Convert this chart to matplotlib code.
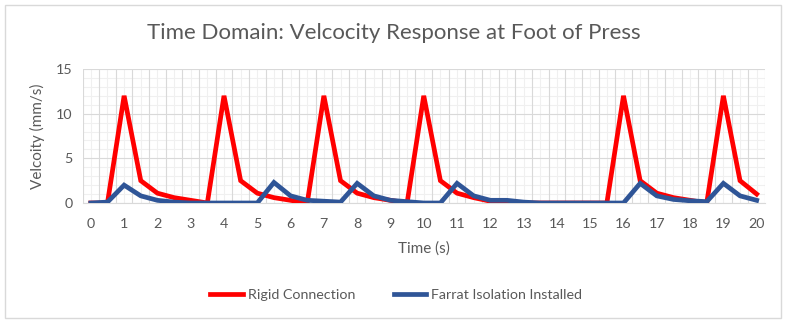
import matplotlib
matplotlib.use("Agg")
import matplotlib.pyplot as plt
from matplotlib.patches import Rectangle
from matplotlib.ticker import MultipleLocator, FixedLocator
import numpy as np

time = [0, 0.5, 1, 1.5, 2, 2.5, 3, 3.5, 4, 4.5, 5, 5.5, 6, 6.5, 7, 7.5, 8, 8.5, 9, 9.5,
        10, 10.5, 11, 11.5, 12, 12.5, 13, 13.5, 14, 14.5, 15, 15.5, 16, 16.5, 17, 17.5,
        18, 18.5, 19, 19.5, 20]
rigid = [0, 0, 12, 2.5, 1.1, 0.6, 0.3, 0, 12, 2.5, 1.1, 0.6, 0.3, 0, 12, 2.5, 1.1, 0.6, 0.3, 0,
         12, 2.5, 1.1, 0.6, 0.2, 0.1, 0, 0, 0, 0, 0, 0, 12, 2.5, 1.1, 0.6, 0.3, 0,
         12, 2.5, 1.0]
farrat = [0, 0.1, 2.0, 0.8, 0.3, 0.1, 0, 0, 0, 0, 0, 2.3, 0.8, 0.3, 0.2, 0.1, 2.2, 0.8, 0.3, 0.15,
          0, 0, 2.2, 0.8, 0.3, 0.3, 0.1, 0, 0, 0, 0, 0, 0, 2.2, 0.8, 0.4, 0.25, 0.15,
          2.2, 0.8, 0.3]
xticks = list(range(0, 21))
yticks = [0, 5, 10, 15]

FONT = ["Lato", "DejaVu Sans"]
plt.rcParams["font.family"] = FONT
TXT = "#595959"

fig = plt.figure(figsize=(7.87, 3.23), dpi=100)
W, H = 787, 323
fig.patches.append(Rectangle((5 / W, 5 / H), 776 / W, 313 / H, transform=fig.transFigure,
                             fill=False, edgecolor="#D9D9D9", linewidth=1))

left, right, top, bottom = 82.5, 765, 69, 203
ax = fig.add_axes([left / W, 1 - bottom / H, (right - left) / W, (bottom - top) / H])

ax.plot(time, rigid, color="#FF0000", linewidth=3.4, label="Rigid Connection", solid_joinstyle="miter", zorder=3)
ax.plot(time, farrat, color="#2F5597", linewidth=3.4, label="Farrat Isolation Installed", solid_joinstyle="miter", zorder=4)

ax.set_xlim(-0.25, 20.25)
ax.set_ylim(0, 15)
ax.xaxis.set_major_locator(FixedLocator(xticks))
ax.yaxis.set_major_locator(FixedLocator(yticks))
ax.yaxis.set_minor_locator(MultipleLocator(1))
ax.tick_params(axis="both", which="both", length=0, labelsize=10.3, colors=TXT, pad=7)
ax.tick_params(axis="x", pad=11)

# gridlines
for xv in np.arange(-0.25, 20.3, 0.5):
    ax.axvline(xv, color="#D9D9D9", linewidth=0.8, zorder=1)
for xv in time:
    ax.axvline(xv, color="#F0F0F0", linewidth=0.8, zorder=0.5)
for yv in range(0, 16):
    if yv % 5 == 0:
        ax.axhline(yv, color="#D9D9D9", linewidth=0.8, zorder=1)
    else:
        ax.axhline(yv, color="#F0F0F0", linewidth=0.8, zorder=0.5)

for s in ax.spines.values():
    s.set_visible(False)
ax.spines["bottom"].set_visible(True)
ax.spines["bottom"].set_color("#D9D9D9")

ax.set_xlabel("Time (s)", fontsize=11, color=TXT, labelpad=8)
ax.set_ylabel("Velcoity (mm/s)", fontsize=11, color=TXT, labelpad=8)

fig.text(394 / W, 1 - 33 / H, "Time Domain: Velcocity Response at Foot of Press",
         ha="center", va="center", fontsize=16, color=TXT)

fig.legend(loc="center", bbox_to_anchor=(396 / W, 1 - 295 / H), ncol=2, frameon=False,
           fontsize=10.3, labelcolor=TXT, handlelength=2.3, handletextpad=0.3, columnspacing=2.7)

fig.savefig("out.png", dpi=100)
